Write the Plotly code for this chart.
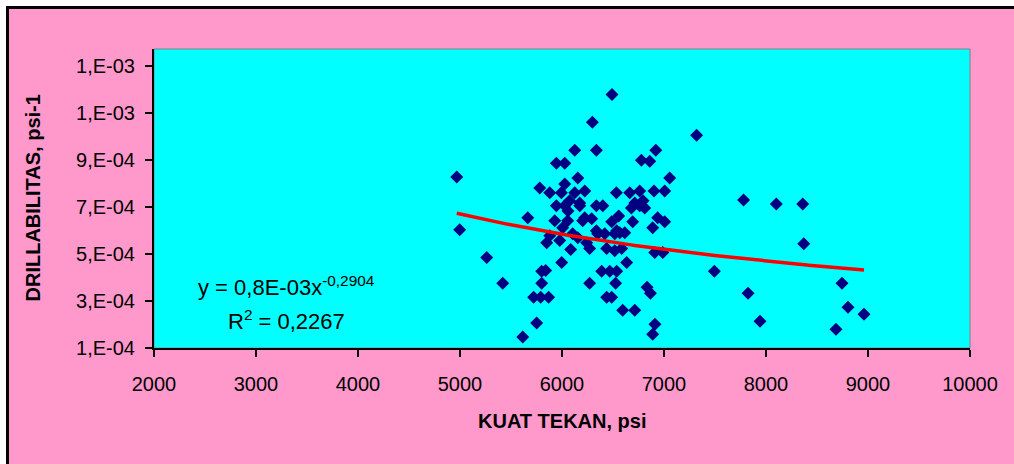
import numpy as np
import plotly.graph_objects as go

# KUAT TEKAN (psi)
kuat_tekan = [4968, 4997, 5262, 5419, 5664, 5615, 5752, 5722, 5791, 5869,
              5801, 5801, 5840, 5997, 6085, 5850, 5978, 5880, 6271, 6438,
              6585, 6271, 6389, 6468, 6536, 6526, 6634, 6438, 6487, 6595,
              6713, 6834, 6867, 6911, 6889, 6909, 6988, 6889, 6938, 7007,
              6693, 6487, 6556, 6762, 6566, 6615, 6517, 6419, 6350, 6105,
              6242, 6007, 5929, 6056, 6203, 6291, 5945, 6027, 6174, 6337,
              6400, 6059, 6223, 6075, 6174, 5782, 5880, 5994, 6125, 6223,
              6027, 6155, 5945, 6027, 6125, 6337, 6298, 6490, 7320, 6920,
              6778, 6860, 7056, 6533, 6664, 6762, 6902, 7007, 6713, 6795,
              6680, 6811, 7780, 8101, 8360, 8370, 7494, 7824, 7941, 8745,
              8804, 8961, 8686, 6337, 6536, 6155, 6517]
# DRILLABILITAS (x 1e-4 psi-1)
drill_e4 = [8.27, 6.03, 4.85, 3.75, 6.54, 1.47, 2.06, 3.16, 3.16, 3.16,
            3.75, 4.26, 4.30, 4.64, 5.19, 5.48, 5.57, 5.78, 5.23, 5.23,
            5.23, 3.75, 4.26, 4.26, 4.26, 3.75, 4.64, 3.16, 3.16, 2.61,
            2.61, 3.58, 3.33, 2.01, 1.59, 5.06, 5.06, 6.12, 6.54, 6.37,
            6.37, 6.37, 6.62, 7.05, 5.90, 5.90, 5.86, 5.86, 5.86, 5.86,
            5.48, 6.12, 6.41, 6.41, 6.41, 6.50, 7.05, 7.05, 7.05, 7.05,
            7.05, 6.83, 6.54, 7.26, 7.17, 7.81, 7.60, 7.60, 7.60, 7.68,
            7.98, 8.23, 8.86, 8.86, 9.41, 9.41, 10.60, 11.78, 10.05, 9.41,
            8.99, 8.95, 8.23, 7.60, 7.60, 7.68, 7.68, 7.68, 7.17, 7.26,
            6.96, 6.96, 7.30, 7.13, 7.13, 5.44, 4.26, 3.33, 2.14, 3.75,
            2.73, 2.44, 1.80, 5.99, 5.99, 5.69, 5.14]
drillabilitas = [v * 1e-4 for v in drill_e4]

# power trendline as drawn (y = a * x^b)
trend_a = 0.4158
trend_b = -0.755

x_ticks = [2000, 3000, 4000, 5000, 6000, 7000, 8000, 9000, 10000]
y_ticks = [1e-4, 3e-4, 5e-4, 7e-4, 9e-4, 1.1e-3, 1.3e-3]
y_tick_text = ["1,E-04", "3,E-04", "5,E-04", "7,E-04", "9,E-04", "1,E-03", "1,E-03"]

eq_text = "y = 0,8E-03x<sup>-0,2904</sup>"
r2_text = "R<sup>2</sup> = 0,2267"

FONT = "Liberation Sans, Arial, sans-serif"

tx = np.linspace(min(kuat_tekan), max(kuat_tekan), 200)
ty = trend_a * tx ** trend_b

fig = go.Figure()
fig.add_trace(go.Scatter(x=kuat_tekan, y=drillabilitas, mode="markers",
                         marker=dict(symbol="diamond", size=10, color="#000080",
                                     line=dict(width=0)),
                         showlegend=False, hoverinfo="x+y"))
fig.add_trace(go.Scatter(x=tx, y=ty, mode="lines",
                         line=dict(color="#FF0000", width=3.5),
                         showlegend=False, hoverinfo="skip"))

W, H = 1014, 464
L, R, T, B = 154, 970, 49, 348
pw, ph = R - L, B - T

def px(xp):
    return (xp - L) / pw

def py(yp):
    return (B - yp) / ph

shapes = [
    dict(type="rect", xref="paper", yref="paper", layer="below",
         x0=px(7.5), x1=px(1030), y0=py(480), y1=py(7.5),
         fillcolor="#FF99CC", line=dict(color="#000000", width=3)),
    dict(type="rect", xref="paper", yref="paper", layer="below",
         x0=0, x1=1, y0=0, y1=1,
         fillcolor="#00FFFF", line=dict(color="#808080", width=1)),
]

annotations = [
    dict(text="<b>KUAT TEKAN, psi</b>", xref="paper", yref="paper",
         x=0.5, y=py(421), xanchor="center", yanchor="middle", showarrow=False,
         font=dict(family=FONT, size=20, color="#000000")),
    dict(text="<b>DRILLABILITAS, psi-1</b>", xref="paper", yref="paper",
         x=px(32), y=0.5, xanchor="center", yanchor="middle", showarrow=False,
         textangle=-90, font=dict(family=FONT, size=20, color="#000000")),
    dict(text=eq_text, xref="paper", yref="paper",
         x=px(286), y=py(286), xanchor="center", yanchor="middle", showarrow=False,
         font=dict(family=FONT, size=22, color="#000000")),
    dict(text=r2_text, xref="paper", yref="paper",
         x=px(286), y=py(320), xanchor="center", yanchor="middle", showarrow=False,
         font=dict(family=FONT, size=22, color="#000000")),
]

fig.update_layout(
    width=W, height=H,
    margin=dict(l=L, r=W - R, t=T, b=H - B),
    paper_bgcolor="#FFFFFF",
    plot_bgcolor="rgba(0,0,0,0)",
    shapes=shapes,
    annotations=annotations,
    font=dict(family=FONT, size=20, color="#000000"),
    xaxis=dict(range=[2000, 10000], tickvals=x_ticks, ticktext=[str(v) for v in x_ticks],
               showgrid=False, zeroline=False, showline=True, linecolor="#000000",
               linewidth=2, ticks="outside", ticklen=7, tickwidth=1.5, tickcolor="#000000",
               tickfont=dict(family=FONT, size=20, color="#000000"), ticklabelstandoff=10),
    yaxis=dict(range=[1e-4, 1.372e-3], tickvals=y_ticks, ticktext=y_tick_text,
               showgrid=False, zeroline=False, showline=True, linecolor="#000000",
               linewidth=2, ticks="outside", ticklen=7, tickwidth=1.5, tickcolor="#000000",
               tickfont=dict(family=FONT, size=20, color="#000000"), ticklabelstandoff=6),
)

fig.write_html("out.html")
